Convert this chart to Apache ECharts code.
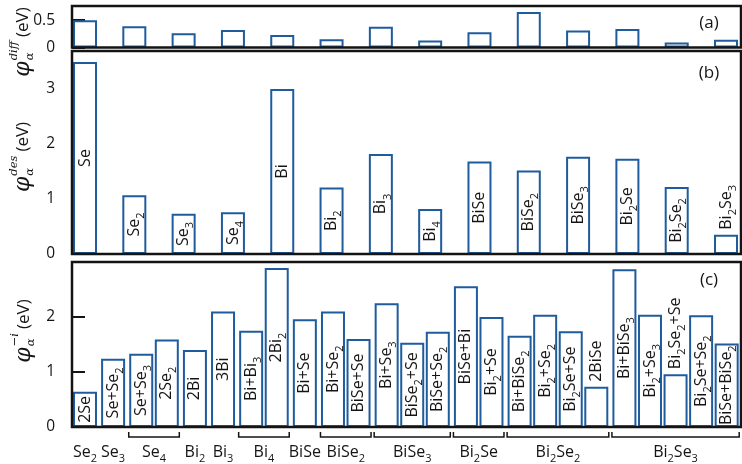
<!DOCTYPE html>
<html><head><meta charset="utf-8">
<script src="https://cdn.jsdelivr.net/npm/echarts@6/dist/echarts.min.js"></script>
<style>html,body{margin:0;padding:0;background:#fff}#c{width:742px;height:464px}</style>
</head><body><div id="c"></div>
<script>
// ---------- data ----------
const species = ['Se','Se2','Se3','Se4','Bi','Bi2','Bi3','Bi4','BiSe','BiSe2','BiSe3','Bi2Se','Bi2Se2','Bi2Se3'];
const diffValues = [0.50,0.39,0.26,0.32,0.23,0.15,0.38,0.13,0.28,0.65,0.31,0.34,0.09,0.14];
const desValues  = [3.49,1.07,0.73,0.76,3.00,1.21,1.82,0.82,1.68,1.52,1.77,1.73,1.22,0.35];
const channelNames = ['2Se','Se+Se2','Se+Se3','2Se2','2Bi','3Bi','Bi+Bi3','2Bi2','Bi+Se','Bi+Se2','BiSe+Se',
  'Bi+Se3','BiSe2+Se','BiSe+Se2','BiSe+Bi','Bi2+Se','Bi+BiSe2','Bi2+Se2','Bi2Se+Se','2BiSe',
  'Bi+BiSe3','Bi2+Se3','Bi2Se2+Se','Bi2Se+Se2','BiSe+BiSe2'];
const channelValues = [0.64,1.24,1.33,1.59,1.40,2.10,1.75,2.89,1.96,2.10,1.60,
  2.25,1.53,1.73,2.56,2.00,1.66,2.04,1.74,0.73,
  2.87,2.04,0.96,2.03,1.52];
const groupNames = ['Se2','Se3','Se4','Bi2','Bi3','Bi4','BiSe','BiSe2','BiSe3','Bi2Se','Bi2Se2','Bi2Se3'];
const groupSizes = [1,1,2,1,1,2,1,2,3,2,4,5];
const ticksA = [0, 0.5];
const ticksB = [0, 1, 2, 3];
const ticksC = [0, 1, 2, 3];
const panelLetters = ['(a)','(b)','(c)'];

// ---------- style / layout ----------
const FONT = '"Open Sans", "Noto Sans", sans-serif';
const MATH = '"DejaVu Serif", serif';
const BLUE = '#1f5c9e';
const INK = '#141414';
const BAR_W = 24;
const GROUP_GAP = 0.1;

function subFmt(name){ return name.replace(/([A-Za-z])(\d+)/g, '$1{s|$2}'); }
const cv = document.createElement('canvas').getContext('2d');
function labelLen(name){
  let w = 0;
  for (let i = 0; i < name.length; i++) {
    const ch = name[i];
    const isSub = /\d/.test(ch) && i > 0 && /[A-Za-z]/.test(name[i-1]);
    cv.font = (isSub ? '11px ' : '16px ') + FONT;
    w += cv.measureText(ch).width;
  }
  return w;
}
function meas(t, font){ cv.font = font; return cv.measureText(t).width; }

const speciesX = species.map((s, i) => i);
const chanX = [];
(function(){ let idx = 0; groupSizes.forEach((n, g) => { for (let k = 0; k < n; k++) { chanX.push(idx + g * GROUP_GAP); idx++; } }); })();
const groupSpans = [];
(function(){ let idx = 0; groupSizes.forEach((n, g) => { groupSpans.push([chanX[idx], chanX[idx + n - 1], g, n]); idx += n; }); })();

const grids = [
  {left:72, right:1, top:6, height:41.5},
  {left:72, right:1, top:51, height:203},
  {left:72, right:1, top:262, height:165}
];
const yMax = [0.76, 3.69, 3];
const pxPerUnit = grids.map((g, i) => g.height / yMax[i]);

const labelBase = {
  show: true, rotate: 90, verticalAlign: 'middle', color: INK,
  fontSize: 16, fontFamily: FONT, lineHeight: 24,
  formatter: p => subFmt(p.name),
  rich: { s: { fontSize: 11, fontFamily: FONT, color: INK, verticalAlign: 'bottom' } }
};
function barData(xs, vals, names, ppu){
  return vals.map((v, i) => {
    const fits = labelLen(names[i]) <= v * ppu;
    return { value: [xs[i], v], name: names[i],
      label: fits ? { position: 'inside', align: 'center' } : { position: 'top', align: 'left', distance: 5 } };
  });
}

function yAxisDef(gi, ticks){
  return {
    type: 'value', gridIndex: gi, min: 0, max: yMax[gi], interval: ticks[1] - ticks[0],
    axisLine: { show: false },
    axisTick: { show: true, length: 13, lineStyle: { color: INK, width: 2 } },
    axisLabel: { show: true, color: INK, fontSize: 15.5, fontFamily: FONT, margin: 17, showMaxLabel: gi === 2 ? false : null,
      formatter: v => (ticks.indexOf(v) >= 0 ? String(v) : '') },
    splitLine: { show: false }
  };
}
function xAxisDef(gi, min, max){
  return { type: 'value', gridIndex: gi, min, max, show: false, splitLine: { show: false } };
}

function yTitle(supTxt, cx, cy){
  const PHI = 22, SM = 11.5, EV = 17;
  const fPhi = 'italic ' + PHI + 'px ' + MATH, fSm = 'italic ' + SM + 'px ' + MATH, fEv = EV + 'px ' + FONT;
  const wPhi = meas('φ', fPhi), wSup = meas(supTxt, fSm), wSub = meas('α', fSm), wEv = meas('(eV)', fEv);
  const L = wPhi + 1 + Math.max(wSup, wSub) + 4 + wEv;
  const x0 = -L / 2;
  const t = (text, x, y, size, family, italic) => ({ type: 'text', x, y,
    style: { text, fontSize: size, fontFamily: family, fontStyle: italic ? 'italic' : 'normal', fill: INK, align: 'left', verticalAlign: 'middle' } });
  return { type: 'group', x: cx, y: cy, rotation: Math.PI / 2, z: 20, children: [
    t('φ', x0, 0, PHI, MATH, true),
    t(supTxt, x0 + wPhi + 1, -9, SM, MATH, true),
    t('α', x0 + wPhi + 1, 7, SM, MATH, true),
    t('(eV)', x0 + wPhi + 1 + Math.max(wSup, wSub) + 4, 0, EV, FONT, false)
  ]};
}

const option = {
  animation: false,
  backgroundColor: '#fff',
  grid: grids.map(g => Object.assign({ show: true, borderColor: INK, borderWidth: 2.5, backgroundColor: 'transparent', z: 10, containLabel: false, outerBoundsMode: 'none' }, g)),
  xAxis: [ xAxisDef(0, -0.264, 13.304), xAxisDef(1, -0.264, 13.304), xAxisDef(2, -0.508, 25.66) ],
  yAxis: [ yAxisDef(0, ticksA), yAxisDef(1, ticksB), yAxisDef(2, ticksC) ],
  series: [
    { type: 'bar', xAxisIndex: 0, yAxisIndex: 0, barWidth: BAR_W,
      itemStyle: { color: '#fff', borderColor: BLUE, borderWidth: 2 },
      data: diffValues.map((v, i) => [speciesX[i], v]) },
    { type: 'bar', xAxisIndex: 1, yAxisIndex: 1, barWidth: BAR_W,
      itemStyle: { color: '#fff', borderColor: BLUE, borderWidth: 2 },
      label: labelBase,
      data: barData(speciesX, desValues, species, pxPerUnit[1]) },
    { type: 'bar', xAxisIndex: 2, yAxisIndex: 2, barWidth: BAR_W,
      itemStyle: { color: '#fff', borderColor: BLUE, borderWidth: 2 },
      label: labelBase,
      data: barData(chanX, channelValues, channelNames, pxPerUnit[2]) },
    { type: 'custom', xAxisIndex: 2, yAxisIndex: 2, clip: false, silent: true,
      data: groupSpans,
      renderItem: (params, api) => {
        const a = api.coord([api.value(0), 0]);
        const b = api.coord([api.value(1), 0]);
        const g = api.value(2), n = api.value(3);
        const half = BAR_W / 2 + 0.5;
        const children = [];
        if (n > 1) {
          children.push({ type: 'polyline', shape: { points: [[a[0] - half, a[1] + 5], [a[0] - half, a[1] + 10], [b[0] + half, b[1] + 10], [b[0] + half, b[1] + 5]] },
            style: { stroke: INK, lineWidth: 1.5, fill: null } });
        }
        children.push({ type: 'text', x: (a[0] + b[0]) / 2, y: a[1] + 25,
          style: { text: subFmt(groupNames[g]), fontSize: 16, fontFamily: FONT, fill: INK, align: 'center', verticalAlign: 'middle', lineHeight: 24,
            rich: { s: { fontSize: 11, fontFamily: FONT, fill: INK, verticalAlign: 'bottom' } } } });
        return { type: 'group', children };
      } }
  ],
  graphic: [
    yTitle('diff', 23, 42),
    yTitle('des', 23, 157),
    yTitle('−i', 24, 331),
    { type: 'text', x: 709, y: 23, z: 20, style: { text: panelLetters[0], fontSize: 17, fontFamily: FONT, fill: INK, align: 'center', verticalAlign: 'middle' } },
    { type: 'text', x: 709, y: 73, z: 20, style: { text: panelLetters[1], fontSize: 17, fontFamily: FONT, fill: INK, align: 'center', verticalAlign: 'middle' } },
    { type: 'text', x: 709, y: 280, z: 20, style: { text: panelLetters[2], fontSize: 17, fontFamily: FONT, fill: INK, align: 'center', verticalAlign: 'middle' } }
  ]
};
const chart = echarts.init(document.getElementById('c'), null, { renderer: 'canvas' });
chart.setOption(option);
</script>
</body></html>
